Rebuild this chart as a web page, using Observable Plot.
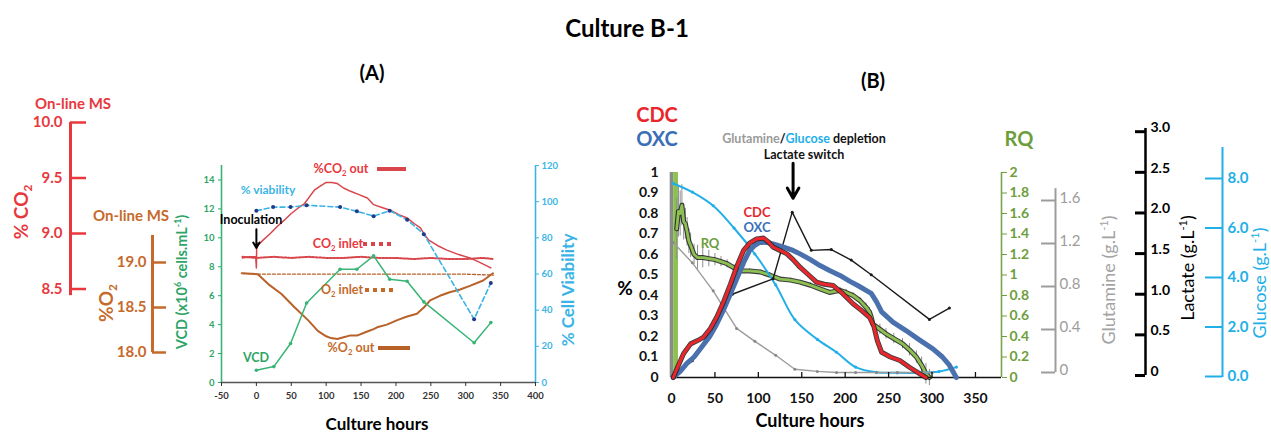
<!DOCTYPE html>
<html>
<head>
<meta charset="utf-8">
<script src="https://cdn.jsdelivr.net/npm/d3@7"></script>
<script src="https://cdn.jsdelivr.net/npm/@observablehq/plot@0.6"></script>
<style>
html,body{margin:0;padding:0;background:#fff;}
#wrap{position:relative;width:1271px;height:434px;overflow:hidden;background:#fff;font-family:Lato,"Open Sans",sans-serif;}
#wrap svg{position:absolute;left:0;top:0;background:transparent !important;overflow:visible;font-family:Lato,"Open Sans",sans-serif;}
.lbl{position:absolute;white-space:nowrap;line-height:1;font-weight:bold;}
.lbl sub,.lbl sup{font-size:0.62em;line-height:0;}
.sw{position:absolute;}
</style>
</head>
<body>
<div id="wrap"></div>
<script>
const W = 1271, H = 434;

// ---------------- Panel A data ----------------
const hourDomainA = [-50, 400];
const hourTicksA = [-50, 0, 50, 100, 150, 200, 250, 300, 350, 400];
const vcdDomain = [0, 15];
const vcdTicks = [0, 2, 4, 6, 8, 10, 12, 14];
const viabilityDomain = [0, 120];
const viabilityTicks = [0, 20, 40, 60, 80, 100, 120];
const co2Ticks = [8.5, 9.0, 9.5, 10.0];
const co2AxisExtent = [8.44, 10.0];
const o2Ticks = [18.0, 18.5, 19.0];
const o2AxisExtent = [18.0, 19.3];

const vcdHours = [0, 25, 49, 72, 120, 144, 168, 191, 216, 240, 312, 336];
const vcdValues = [0.85, 1.1, 2.7, 5.5, 7.83, 7.83, 8.75, 7.14, 7.0, 5.57, 2.75, 4.14];
const viabilityHours = [0, 24, 49, 72, 120, 144, 168, 191, 216, 240, 312, 336];
const viabilityValues = [95, 97, 97, 98, 97, 94.7, 92, 95, 90, 82, 35, 55];

const co2OutHours = [-20, -10, -1, 0, 0.5, 3, 9.5, 20, 31, 40, 50, 60, 69, 76, 83, 92, 100, 108, 116, 125, 135, 147, 159, 168, 182, 192, 204, 216, 226, 235, 241, 247, 260, 273, 290, 306, 320, 336];
const co2OutValues = [8.78, 8.79, 8.79, 8.69, 8.92, 8.90, 8.94, 9.00, 9.07, 9.12, 9.18, 9.23, 9.27, 9.33, 9.39, 9.43, 9.46, 9.46, 9.45, 9.41, 9.38, 9.35, 9.32, 9.26, 9.23, 9.21, 9.17, 9.14, 9.09, 9.05, 8.99, 8.94, 8.89, 8.85, 8.81, 8.78, 8.74, 8.69];
const co2InletHours = [-20, 0, 25, 50, 75, 100, 125, 150, 175, 200, 225, 250, 275, 300, 325, 340];
const co2InletValues = [8.79, 8.78, 8.79, 8.78, 8.79, 8.78, 8.78, 8.79, 8.78, 8.78, 8.77, 8.78, 8.77, 8.77, 8.78, 8.77];
const o2OutHours = [-21, 2, 17, 36, 55, 74, 88, 100, 107, 116, 125, 135, 145, 158, 168, 173, 187, 202, 216, 230, 240, 249, 263, 277, 292, 306, 325, 339];
const o2OutValues = [18.88, 18.87, 18.76, 18.65, 18.50, 18.36, 18.24, 18.18, 18.16, 18.15, 18.17, 18.19, 18.19, 18.23, 18.26, 18.28, 18.31, 18.36, 18.40, 18.43, 18.50, 18.58, 18.63, 18.67, 18.70, 18.74, 18.80, 18.88];
const o2InletHours = [-20, 0, 50, 100, 150, 200, 250, 300, 340];
const o2InletValues = [18.88, 18.87, 18.87, 18.87, 18.87, 18.87, 18.87, 18.87, 18.86];
const inoculation = [{hour: 0, from: 10.6, to: 9.3}];

// ---------------- Panel B data ----------------
const hourDomainB = [0, 380];
const hourTicksB = [0, 50, 100, 150, 200, 250, 300, 350];
const pctTicks = [0, 0.1, 0.2, 0.3, 0.4, 0.5, 0.6, 0.7, 0.8, 0.9, 1];
const rqTicks = [0, 0.2, 0.4, 0.6, 0.8, 1, 1.2, 1.4, 1.6, 1.8, 2];
const glnTicks = [0, 0.4, 0.8, 1.2, 1.6];
const glnAxisExtent = [0, 1.71];
const lacTicks = [0, 0.5, 1.0, 1.5, 2.0, 2.5, 3.0];
const lacAxisExtent = [0, 3.04];
const glcTicks = [0, 2, 4, 6, 8];
const glcAxisExtent = [-0.04, 9.25];

const cdcHours = [2, 8, 14, 22, 30, 37, 45, 52, 60, 68, 75, 83, 90, 98, 106, 112, 117, 125, 133, 140, 148, 158, 167, 176, 186, 197, 209, 218, 228, 233, 237, 242, 252, 263, 274, 286, 293];
const cdcValues = [0, 0.06, 0.117, 0.164, 0.18, 0.197, 0.24, 0.294, 0.37, 0.457, 0.54, 0.62, 0.655, 0.676, 0.68, 0.66, 0.636, 0.62, 0.603, 0.575, 0.538, 0.5, 0.465, 0.455, 0.449, 0.41, 0.36, 0.33, 0.294, 0.25, 0.18, 0.123, 0.1, 0.083, 0.05, 0.018, 0];
const oxcHours = [2, 10, 18, 26, 35, 44, 52, 60, 68, 76, 83, 90, 96, 102, 110, 117, 130, 140, 148, 160, 171, 182, 194, 205, 216, 226, 230, 236, 242, 255, 270, 285, 301, 312, 320, 328];
const oxcValues = [0, 0.03, 0.07, 0.1, 0.15, 0.2, 0.26, 0.33, 0.41, 0.49, 0.56, 0.62, 0.645, 0.66, 0.658, 0.652, 0.635, 0.62, 0.603, 0.575, 0.546, 0.522, 0.498, 0.47, 0.445, 0.42, 0.41, 0.37, 0.32, 0.27, 0.229, 0.185, 0.14, 0.1, 0.06, 0];
const rqHours = [6, 8, 10, 12, 14, 16, 18, 20, 22, 26, 30, 36, 43, 50, 57, 64, 72, 79, 90, 102, 113, 125, 137, 148, 160, 171, 182, 194, 201, 209, 217, 224, 228, 230, 232, 240, 247, 256, 266, 274, 282, 288, 293, 297];
const rqValues = [1.45, 1.62, 1.6, 1.68, 1.52, 1.5, 1.42, 1.33, 1.29, 1.2, 1.17, 1.17, 1.16, 1.15, 1.13, 1.11, 1.07, 1.04, 1.04, 1.03, 1.0, 0.96, 0.95, 0.93, 0.9, 0.865, 0.83, 0.85, 0.83, 0.8, 0.75, 0.686, 0.64, 0.59, 0.52, 0.47, 0.426, 0.38, 0.33, 0.27, 0.2, 0.12, 0.036, 0];
const rqErrors = [0.3, 0.25, 0.22, 0.2, 0.18, 0.15, 0.14, 0.12, 0.12, 0.1, 0.12, 0.1, 0.08, 0.06, 0.05, 0.04, 0.03, 0.03, 0.02, 0.02, 0.02, 0.02, 0.02, 0.02, 0.02, 0.02, 0.02, 0.03, 0.03, 0.03, 0.03, 0.04, 0.04, 0.04, 0.04, 0.05, 0.05, 0.05, 0.05, 0.06, 0.06, 0.08, 0.1, 0.08];
const rqStartBand = [{from: -1.5, to: 2.5, low: 0, high: 2, kind: "error"}, {from: 2.5, to: 8, low: 0, high: 2, kind: "rq"}];
const glcHours = [2, 24, 48, 72, 96, 120, 142, 168, 190, 212, 236, 260, 284, 308, 328];
const glcValues = [7.8, 7.45, 6.9, 6.0, 4.95, 3.7, 2.3, 1.5, 0.98, 0.38, 0.17, 0.15, 0.15, 0.2, 0.38];
const glnHours = [2, 24, 48, 75, 96, 120, 142, 168, 190, 212, 236, 260, 284, 300];
const glnValues = [1.21, 1.02, 0.76, 0.41, 0.29, 0.16, 0.03, 0.01, 0.0, 0.0, 0.0, 0.0, 0.0, 0.0];
const lacHours = [2, 24, 70, 117, 139, 161, 184, 207, 230, 297, 320];
const lacValues = [0.0, 0.18, 1.0, 1.19, 2.01, 1.54, 1.55, 1.42, 1.24, 0.69, 0.83];
const lactateSwitch = [{hour: 140, from: 1.045, to: 0.875}];

// ---------------- colours ----------------
const cCO2 = "#e8383d", cCO2line = "#d8454b", cO2 = "#c66a2c", cO2line = "#b8622a";
const cVCD = "#38b475", cVCDtxt = "#2ea466", cVia = "#3ab4e6", cViaDot = "#1f3a8a";
const cCDC = "#e8262b", cOXC = "#4a70ad", cOXCtxt = "#3a6fb8", cRQ = "#6e9e3c", cRQline = "#8cc152";
const cGlc = "#22afe8", cGln = "#9c9c9c";

// ---------------- helpers ----------------
const wrap = document.getElementById("wrap");
function layer(o) {
  const svg = Plot.plot(Object.assign({width: W, height: H, margin: 0}, o));
  wrap.appendChild(svg);
  return svg;
}
const pts = (xs, ys) => xs.map((x, i) => ({x, y: ys[i]}));

function extAxis(a) {
  const sgn = a.dir === "right" ? 1 : -1;
  const right = a.labelSide === "right";
  layer({
    x: {domain: [0, 1], range: [a.x, a.x + sgn * a.len], axis: null},
    y: {domain: a.domain, range: a.range, axis: null},
    marks: [
      Plot.ruleX([0], {y1: a.extent[0], y2: a.extent[1], stroke: a.color, strokeWidth: a.lineWidth}),
      Plot.ruleY(a.ticks, {x1: 0, x2: 1, y: d => d, stroke: a.color, strokeWidth: a.tickWidth}),
      Plot.text(a.ticks, {x: 0, y: d => d, text: a.fmt, dx: (right ? 1 : -1) * a.pad, dy: a.dy || 0,
        textAnchor: right ? "start" : "end", fill: a.color, fontSize: a.fontSize, fontWeight: a.fontWeight})
    ]
  });
}

function label(html, x, y, o = {}) {
  const d = document.createElement("div");
  d.className = "lbl";
  d.innerHTML = html;
  d.style.left = x + "px";
  d.style.top = y + "px";
  d.style.fontSize = (o.size || 14) + "px";
  d.style.color = o.color || "#000";
  d.style.fontWeight = o.weight || "bold";
  const ax = o.anchor === "start" ? "0%" : o.anchor === "end" ? "-100%" : "-50%";
  d.style.transform = `translate(${ax},-50%)` + (o.rotate ? ` rotate(${o.rotate}deg)` : "");
  wrap.appendChild(d);
}
function swatch(x1, x2, y, color, th, dotted) {
  const d = document.createElement("div");
  d.className = "sw";
  d.style.left = x1 + "px";
  d.style.top = (y - th / 2) + "px";
  d.style.width = (x2 - x1) + "px";
  d.style.height = th + "px";
  d.style.background = dotted ? `repeating-linear-gradient(90deg, ${color} 0 4px, transparent 4px 8px)` : color;
  wrap.appendChild(d);
}

// ---------------- Panel A ----------------
const xA = {domain: hourDomainA, range: [221, 535], axis: null};
const frameA = {marginLeft: 221, marginRight: W - 535, marginTop: 165, marginBottom: H - 382};

// O2 on-line MS (own %O2 scale)
layer({
  x: xA, y: {domain: [18, 19], range: [352, 262], axis: null},
  marks: [
    Plot.line(pts(o2InletHours, o2InletValues), {x: "x", y: "y", stroke: cO2line, strokeWidth: 1.3, strokeDasharray: "3,2"}),
    Plot.line(pts(o2OutHours, o2OutValues), {x: "x", y: "y", stroke: cO2line, strokeWidth: 2})
  ]
});
// CO2 on-line MS (own %CO2 scale)
layer({
  x: xA, y: {domain: [8.5, 10], range: [288.5, 122], axis: null},
  marks: [
    Plot.line(pts(co2InletHours, co2InletValues), {x: "x", y: "y", stroke: cCO2line, strokeWidth: 2, strokeDasharray: "2,1.5"}),
    Plot.line(pts(co2OutHours, co2OutValues), {x: "x", y: "y", stroke: cCO2line, strokeWidth: 1.5})
  ]
});
// VCD + main axes
layer({
  ...frameA,
  x: {domain: hourDomainA},
  y: {domain: vcdDomain},
  marks: [
    Plot.ruleY([0], {stroke: "#555", strokeWidth: 1.3}),
    Plot.axisX({ticks: hourTicksA, tickSize: 4, tickPadding: 6, tickFormat: d => String(d), fontSize: 9.5, fontWeight: "bold", color: "#333", label: null}),
    Plot.ruleX([hourDomainA[0]], {y1: vcdDomain[0], y2: vcdDomain[1], stroke: cVCD, strokeWidth: 1.6}),
    Plot.axisY({ticks: vcdTicks, tickSize: 3, tickPadding: 4, fontSize: 9.5, fontWeight: "bold", color: cVCDtxt, label: null}),
    Plot.line(pts(vcdHours, vcdValues), {x: "x", y: "y", stroke: cVCD, strokeWidth: 1.5}),
    Plot.dot(pts(vcdHours, vcdValues), {x: "x", y: "y", r: 1.8, fill: cVCD}),
    Plot.arrow(inoculation, {x1: "hour", x2: "hour", y1: "from", y2: "to", stroke: "#000", strokeWidth: 2, headLength: 8})
  ]
});
// Viability
layer({
  ...frameA,
  x: {domain: hourDomainA, axis: null},
  y: {domain: viabilityDomain},
  marks: [
    Plot.ruleX([hourDomainA[1]], {y1: viabilityDomain[0], y2: viabilityDomain[1], stroke: cVia, strokeWidth: 1.6}),
    Plot.axisY({anchor: "right", ticks: viabilityTicks, tickSize: 3, tickPadding: 3, fontSize: 9.5, fontWeight: "bold", color: cVia, label: null}),
    Plot.line(pts(viabilityHours, viabilityValues), {x: "x", y: "y", stroke: cVia, strokeWidth: 1.6, strokeDasharray: "5,3"}),
    Plot.dot(pts(viabilityHours, viabilityValues), {x: "x", y: "y", r: 2, fill: cViaDot})
  ]
});
// external axes (panel A)
extAxis({x: 70, dir: "right", len: 16, labelSide: "left", pad: 8, domain: [8.5, 10], range: [288.5, 122], extent: co2AxisExtent,
  ticks: co2Ticks, fmt: d => d.toFixed(1), color: cCO2, lineWidth: 3, tickWidth: 2.5, fontSize: 15, fontWeight: "bold"});
extAxis({x: 152, dir: "right", len: 14, labelSide: "left", pad: 6, domain: [18, 19], range: [352, 262], extent: o2AxisExtent,
  ticks: o2Ticks, fmt: d => d.toFixed(1), color: cO2, lineWidth: 3, tickWidth: 2.5, fontSize: 15, fontWeight: "bold"});

// ---------------- Panel B ----------------
const xB = {domain: hourDomainB, range: [671, 1001], axis: null};
const frameB = {marginLeft: 671, marginRight: W - 1001, marginTop: 172, marginBottom: H - 377};

// RQ layer
layer({
  ...frameB,
  x: {domain: hourDomainB, axis: null},
  y: {domain: [0, 2]},
  marks: [
    Plot.rect(rqStartBand, {x1: "from", x2: "to", y1: "low", y2: "high", fill: d => d.kind === "rq" ? cRQline : "#8a8a8a"}),
    Plot.ruleX(rqHours.map((h, i) => ({h, lo: rqValues[i] - rqErrors[i], hi: rqValues[i] + rqErrors[i]})), {x: "h", y1: "lo", y2: "hi", stroke: "#8f8f8f", strokeWidth: 1}),
    Plot.line(pts(rqHours, rqValues), {x: "x", y: "y", stroke: "#1d1d1d", strokeWidth: 5, strokeOpacity: 0.85}),
    Plot.line(pts(rqHours, rqValues), {x: "x", y: "y", stroke: cRQline, strokeWidth: 2.8}),
    Plot.ruleX([hourDomainB[1]], {y1: 0, y2: 2, stroke: "#7aa34a", strokeWidth: 1.6}),
    Plot.axisY({anchor: "right", ticks: rqTicks, tickSize: 5, tickPadding: 3, tickFormat: d => String(+d.toFixed(1)), fontSize: 14, fontWeight: "bold", color: cRQ, label: null})
  ]
});
// glucose
layer({
  x: xB, y: {domain: [0, 8], range: [376, 178], axis: null},
  marks: [
    Plot.line(pts(glcHours, glcValues), {x: "x", y: "y", stroke: cGlc, strokeWidth: 2, curve: "catmull-rom"}),
    Plot.dot(pts(glcHours, glcValues), {x: "x", y: "y", r: 1.6, fill: cGlc})
  ]
});
// glutamine
layer({
  x: xB, y: {domain: [0, 1.6], range: [372, 200], axis: null},
  marks: [
    Plot.line(pts(glnHours, glnValues), {x: "x", y: "y", stroke: cGln, strokeWidth: 1.4}),
    Plot.dot(pts(glnHours, glnValues), {x: "x", y: "y", r: 1.5, fill: "#888"})
  ]
});
// lactate
layer({
  x: xB, y: {domain: [0, 3], range: [375, 131.2], axis: null},
  marks: [
    Plot.line(pts(lacHours, lacValues), {x: "x", y: "y", stroke: "#1a1a1a", strokeWidth: 1.4}),
    Plot.dot(pts(lacHours, lacValues), {x: "x", y: "y", r: 1.5, fill: "#1a1a1a"})
  ]
});
// CDC / OXC main
layer({
  ...frameB,
  x: {domain: hourDomainB},
  y: {domain: [0, 1]},
  marks: [
    Plot.ruleY([0], {stroke: "#111", strokeWidth: 1.5}),
    Plot.ruleX(hourTicksB.slice(1), {insetTop: 200, stroke: "#111", strokeWidth: 1.3}),
    Plot.axisX({ticks: hourTicksB, tickSize: 0, tickPadding: 16, tickFormat: d => String(d), fontSize: 14, fontWeight: "bold", color: "#111", label: null}),
    Plot.axisY({ticks: pctTicks, tickSize: 0, tickPadding: 13, tickFormat: d => String(+d.toFixed(1)), fontSize: 14, fontWeight: "bold", color: "#111", label: null}),
    Plot.line(pts(oxcHours, oxcValues), {x: "x", y: "y", stroke: cOXC, strokeWidth: 5}),
    Plot.line(pts(cdcHours, cdcValues), {x: "x", y: "y", stroke: "#1d1d1d", strokeWidth: 5, strokeOpacity: 0.85}),
    Plot.line(pts(cdcHours, cdcValues), {x: "x", y: "y", stroke: cCDC, strokeWidth: 3.2}),
    Plot.arrow(lactateSwitch, {x1: "hour", x2: "hour", y1: "from", y2: "to", stroke: "#000", strokeWidth: 3, headLength: 10})
  ]
});
// external axes (panel B)
extAxis({x: 1055, dir: "left", len: 14, labelSide: "right", pad: 4, domain: [0, 1.6], range: [372, 200], extent: glnAxisExtent,
  ticks: glnTicks, fmt: d => d === 0 ? "0" : d.toFixed(1), color: cGln, lineWidth: 2, tickWidth: 2, fontSize: 15, fontWeight: "normal", dy: -2});
extAxis({x: 1145, dir: "left", len: 10, labelSide: "right", pad: 5, domain: [0, 3], range: [375, 131.2], extent: lacAxisExtent,
  ticks: lacTicks, fmt: d => d === 0 ? "0" : d.toFixed(1), color: "#000", lineWidth: 2.5, tickWidth: 3, fontSize: 14, fontWeight: "bold", dy: -4});
extAxis({x: 1222, dir: "left", len: 17, labelSide: "right", pad: 5, domain: [0, 8], range: [376, 178], extent: glcAxisExtent,
  ticks: glcTicks, fmt: d => d.toFixed(1), color: cGlc, lineWidth: 2, tickWidth: 2, fontSize: 15, fontWeight: "bold"});

// ---------------- texts ----------------
label("Culture B-1", 627, 28, {size: 24});
label("(A)", 372, 72, {size: 20});
label("(B)", 873, 80, {size: 20});

label("On-line MS", 73, 103, {size: 15, color: cCO2});
label("% CO<sub>2</sub>", 20, 212, {size: 19, color: cCO2, rotate: -90});
label("On-line MS", 131, 215, {size: 15, color: cO2});
label("%O<sub>2</sub>", 105, 303, {size: 19, color: cO2, rotate: -90});
label("VCD (x10<sup>6</sup> cells.mL<sup>-1</sup>)", 182, 282, {size: 14.5, color: cVCDtxt, rotate: -90});
label("% Cell Viability", 567, 290, {size: 17, color: cVia, rotate: -90});
label("Culture hours", 377, 423, {size: 17});

label("%CO<sub>2</sub> out", 341, 169, {size: 12.5, color: cCO2});
swatch(377, 406, 169, cCO2line, 4, false);
label("% viability", 268, 190, {size: 12, color: cVia});
label("Inoculation", 251, 220, {size: 12.5, color: "#000"});
label("CO<sub>2</sub> inlet", 338, 244, {size: 12.5, color: cCO2});
swatch(363, 391, 244, cCO2line, 4, true);
label("O<sub>2</sub> inlet", 342, 290, {size: 12.5, color: cO2});
swatch(365, 393, 290, cO2, 4, true);
label("%O<sub>2</sub> out", 351, 347.5, {size: 12.5, color: cO2});
swatch(378, 410, 347.5, cO2line, 4, false);
label("VCD", 256, 358, {size: 12.5, color: cVCDtxt});

label("CDC", 657, 114, {size: 20, color: cCDC});
label("OXC", 657, 138, {size: 20, color: cOXCtxt});
label("RQ", 1019, 138, {size: 20, color: cRQ});
label('<span style="color:#9a9a9a">Glutamine</span>/<span style="color:#22afe8">Glucose</span> depletion', 804, 139, {size: 12.5, color: "#111"});
label("Lactate switch", 804, 155, {size: 12.5, color: "#111"});
label("CDC", 757, 212, {size: 13, color: cCDC});
label("OXC", 757, 227, {size: 13, color: cOXCtxt});
label("RQ", 710, 243, {size: 13, color: cRQ});
label("%", 625, 287, {size: 19});
label("Culture hours", 810, 420, {size: 18});
label("Glutamine (g.L<sup>-1</sup>)", 1108, 280, {size: 18, color: "#a3a3a3", weight: "normal", rotate: -90});
label("Lactate (g.L<sup>-1</sup>)", 1187, 268, {size: 18, color: "#000", weight: "normal", rotate: -90});
label("Glucose (g.L<sup>-1</sup>)", 1259, 283, {size: 18, color: cGlc, weight: "normal", rotate: -90});
</script>
</body>
</html>
